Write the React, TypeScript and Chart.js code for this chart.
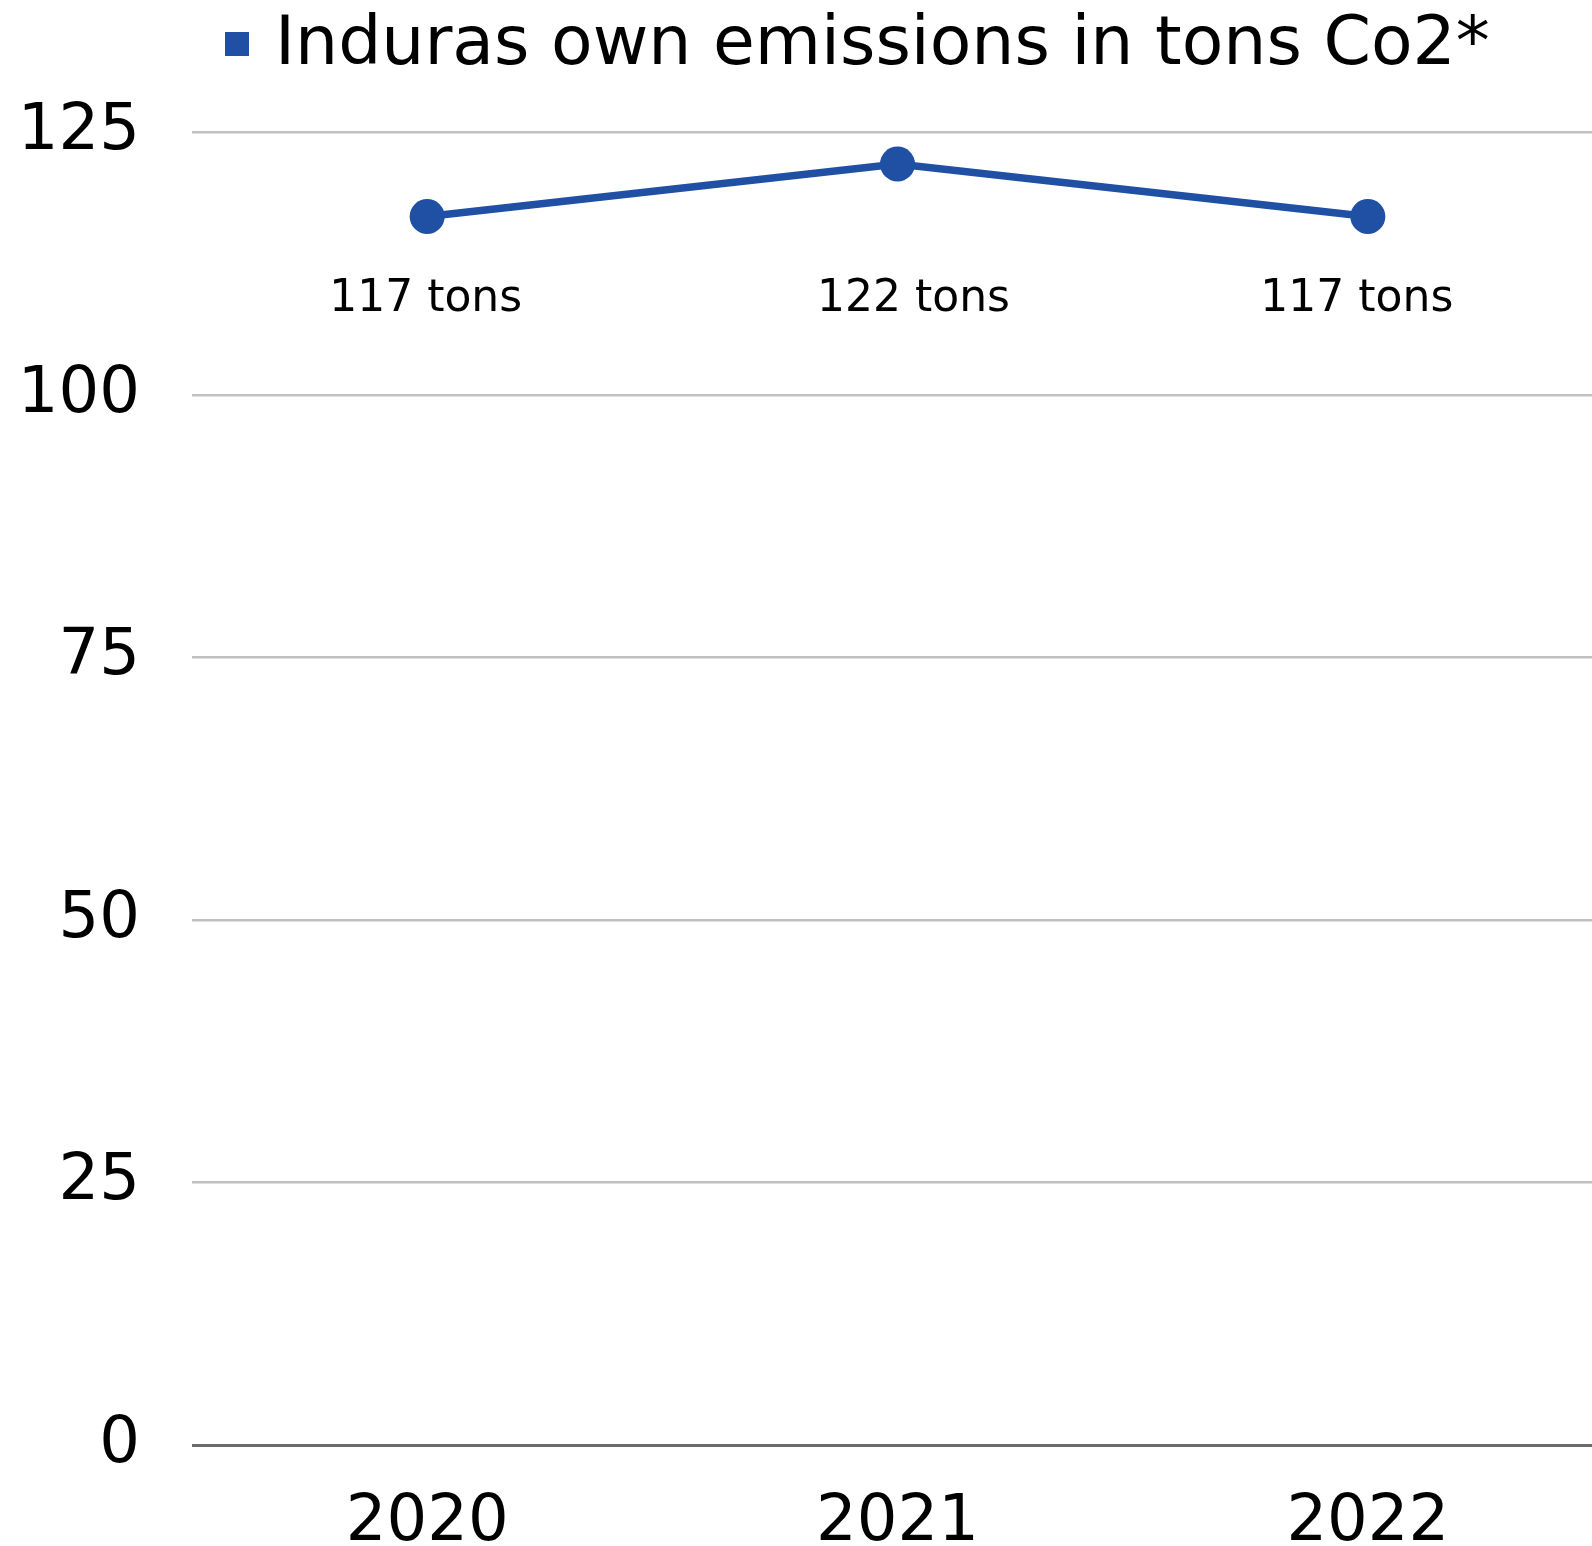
import { useEffect, useRef } from "react";
import { Chart, registerables } from "chart.js";

Chart.register(...registerables);

// Yearly emission figures
const years = ["2020", "2021", "2022"];
const emissions = [117, 122, 117];
const valueLabels = ["117 tons", "122 tons", "117 tons"];
const yTicks = [0, 25, 50, 75, 100, 125];
const seriesName = "Induras own emissions in tons Co2*";

const FONT = '"DejaVu Sans", sans-serif';
const BLUE = "#1F50A4";

const CANVAS_W = 1603;
const CANVAS_H = 1546;

export default function App() {
  const ref = useRef<HTMLCanvasElement>(null);

  useEffect(() => {
    const canvas = ref.current;
    if (!canvas) return;

    // Legend row: colour square followed by the series name
    const legendPlugin = {
      id: "topLegend",
      afterDraw(chart: any, _args: any, opts: any) {
        const ctx = chart.ctx;
        const ds = chart.data.datasets[0];
        ctx.save();
        ctx.fillStyle = ds.borderColor;
        ctx.fillRect(opts.x, opts.y, opts.box, opts.box);
        ctx.fillStyle = "#000";
        ctx.font = `${opts.size}px ${FONT}`;
        ctx.textBaseline = "alphabetic";
        ctx.textAlign = "left";
        ctx.fillText(ds.label, opts.textX, opts.baseline);
        ctx.restore();
      },
    };

    // Value captions under each point
    const valueLabelPlugin = {
      id: "valueLabels",
      afterDatasetsDraw(chart: any, _args: any, opts: any) {
        const ctx = chart.ctx;
        const meta = chart.getDatasetMeta(0);
        const y = chart.scales.y.getPixelForValue(opts.anchorValue);
        ctx.save();
        ctx.fillStyle = "#000";
        ctx.font = `${opts.size}px ${FONT}`;
        ctx.textAlign = "center";
        ctx.textBaseline = "middle";
        meta.data.forEach((pt: any, i: number) => {
          ctx.fillText(valueLabels[i], pt.x + (opts.dx[i] || 0), y);
        });
        ctx.restore();
      },
    };

    const chart = new Chart(canvas, {
      type: "line",
      data: {
        labels: years,
        datasets: [
          {
            label: seriesName,
            data: emissions,
            borderColor: BLUE,
            backgroundColor: BLUE,
            borderWidth: 7.5,
            pointRadius: 17.5,
            pointHoverRadius: 17.5,
            pointBackgroundColor: BLUE,
            pointBorderWidth: 0,
            tension: 0,
          },
        ],
      },
      options: {
        animation: false,
        responsive: false,
        devicePixelRatio: 1,
        layout: {
          autoPadding: false,
          padding: { top: 132.5, left: 0, right: 0, bottom: 0 },
        },
        plugins: {
          legend: { display: false },
          tooltip: { enabled: false },
          topLegend: { x: 225, y: 32, box: 24, textX: 275, baseline: 64, size: 68 },
          valueLabels: { anchorValue: 109.1, size: 44, dx: [-1.5, 16, -11] },
        } as any,
        scales: {
          x: {
            offset: true,
            grid: { display: false, drawTicks: false },
            border: { display: false },
            ticks: {
              color: "#000",
              font: { family: FONT, size: 64, lineHeight: 1 },
              padding: 46,
              maxRotation: 0,
              autoSkip: false,
            },
            afterFit(scale: any) {
              scale.height = 101;
              scale.paddingLeft = 0;
              scale.paddingRight = 0;
            },
          },
          y: {
            min: 0,
            max: 125,
            grid: {
              drawTicks: false,
              color: (c: any) => (c.tick && c.tick.value === 0 ? "#6B6B6B" : "#C0C0C0"),
              lineWidth: (c: any) => (c.tick && c.tick.value === 0 ? 3 : 2.5),
            },
            border: { display: false },
            ticks: {
              color: "#000",
              font: { family: FONT, size: 64, lineHeight: 1 },
              padding: 52,
            },
            afterBuildTicks(scale: any) {
              scale.ticks = yTicks.map((v) => ({ value: v }));
            },
            afterFit(scale: any) {
              scale.width = 192;
            },
          },
        },
      },
      plugins: [legendPlugin, valueLabelPlugin],
    });

    return () => chart.destroy();
  }, []);

  return (
    <div
      style={{
        position: "absolute",
        left: 0,
        top: 0,
        width: 1592,
        height: 1546,
        overflow: "hidden",
        background: "#fff",
      }}
    >
      <canvas
        ref={ref}
        width={CANVAS_W}
        height={CANVAS_H}
        style={{ width: CANVAS_W, height: CANVAS_H, display: "block" }}
      />
    </div>
  );
}
